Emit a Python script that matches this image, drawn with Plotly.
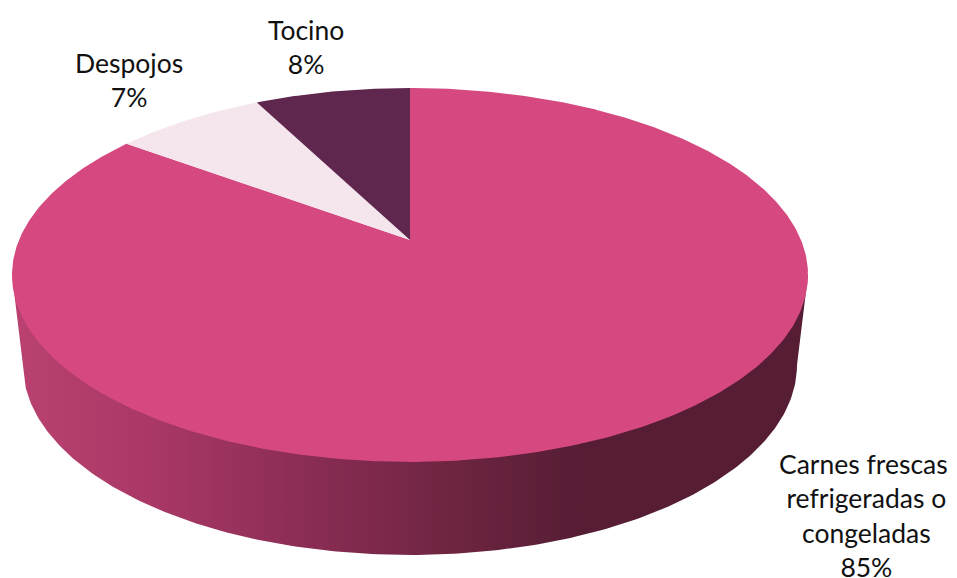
import numpy as np
import plotly.graph_objects as go

categories = ["Carnes frescas,<br>refrigeradas o<br>congeladas", "Despojos", "Tocino"]
values = [85.1, 7.35, 7.55]
slice_colors = ["#D64980", "#F5E6EE", "#5F264E"]
label_x = [866, 129, 306]
label_y = [515, 80, 46.5]

W, H = 957, 578
PAGE_MARGIN = 8            # default body margin of the written page
AX, AY = 410, 240          # apex of the tilted disc
A, B, K = 391.0, 180.4, 0.187
LOW_CY, LOW_RX, LOW_RY = 365, 387, 190
TOP_CY, TOP_RX = 275, 398


def rim(frac):
    th = 2 * np.pi * np.asarray(frac)
    s, c = np.sin(th), np.cos(th)
    w = 1 + K * c
    return AX + A * s / w, AY - B * c / w


fig = go.Figure()

# side wall
t = np.linspace(np.pi, 0, 240)
wall_x = np.r_[TOP_RX * -1 + AX, AX + LOW_RX * np.cos(t), AX + TOP_RX]
wall_y = np.r_[TOP_CY, LOW_CY + LOW_RY * np.sin(t), TOP_CY]
fig.add_trace(go.Scatter(
    x=wall_x, y=wall_y, mode="lines", fill="toself", line=dict(width=0),
    fillgradient=dict(
        type="horizontal", start=23, stop=797,
        colorscale=[[0, "#B8416F"], [0.17, "#A93866"], [0.36, "#8B2D55"],
                    [0.55, "#6F2542"], [0.72, "#561D35"], [1, "#561D35"]],
    ),
    hoverinfo="skip", showlegend=False,
))

# top face, clockwise from 12 o'clock
start = 0.0
total = sum(values)
for v, col in zip(values, slice_colors):
    end = start + v / total
    f = np.linspace(start, end, max(int(v * 6), 20))
    rx, ry = rim(f)
    fig.add_trace(go.Scatter(
        x=np.r_[AX, rx, AX], y=np.r_[AY, ry, AY], mode="lines", fill="toself",
        fillcolor=col, line=dict(width=0), hoverinfo="skip", showlegend=False,
    ))
    start = end

for name, v, x, y in zip(categories, values, label_x, label_y):
    fig.add_annotation(
        x=x, y=y, text=f"{name}<br>{v:.0f}%", showarrow=False, align="center",
        font=dict(family="Lato", size=26.5, color="#111111"),
    )

fig.update_layout(
    width=W - PAGE_MARGIN, height=H - PAGE_MARGIN, margin=dict(l=0, r=0, t=0, b=0),
    paper_bgcolor="white", plot_bgcolor="white",
    xaxis=dict(range=[PAGE_MARGIN, W], visible=False, fixedrange=True),
    yaxis=dict(range=[H, PAGE_MARGIN], visible=False, fixedrange=True),
)
fig.write_html("out.html", config={"displayModeBar": False})
